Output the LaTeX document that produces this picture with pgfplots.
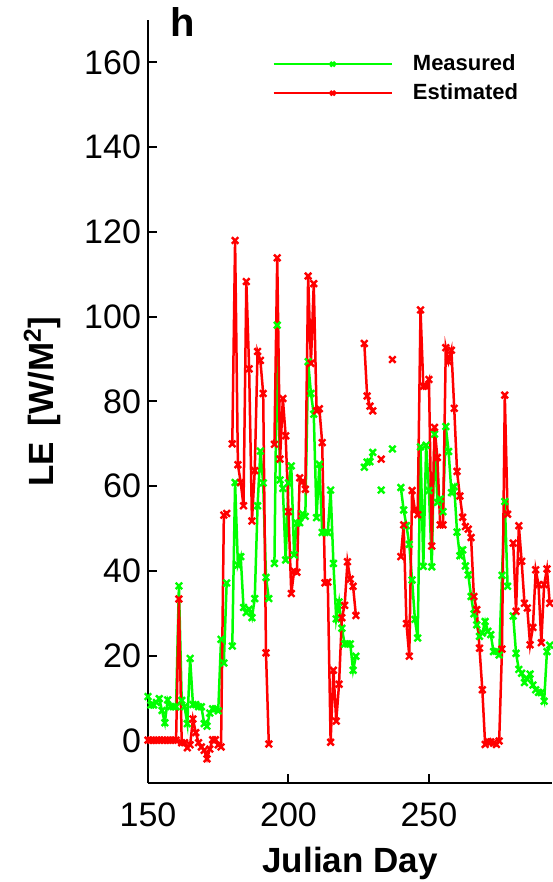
\documentclass[border=0pt]{standalone}
\usepackage{pgfplots}
\pgfplotsset{compat=1.18}
\usepackage{pgfplotstable}
\usepackage{fontspec}
\setmainfont{Liberation Sans}
\definecolor{mgreen}{rgb}{0,1,0}
\definecolor{mred}{rgb}{1,0,0}

\pgfplotstableread{
day val
150 10.4
151 8.4
152 8.4
153 9.0
154 9.9
155 7.1
156 4.2
157 9.6
158 8.0
159 8.0
160 8.0
161 36.5
162 9.5
163 8.0
164 4.0
165 19.4
166 8.5
167 8.5
168 8.0
169 8.0
170 4.0
171 3.4
172 6.5
173 7.5
174 7.5
175 7.0
176 23.9
177 18.3
178 37.2
179 nan
180 22.3
181 60.9
182 41.4
183 43.4
184 31.4
185 30.2
186 31.0
187 29.0
188 33.5
189 55.4
190 68.3
191 60.8
192 38.5
193 33.5
194 nan
195 41.8
196 98.0
197 61.5
198 59.5
199 42.6
200 60.8
201 64.8
202 43.8
203 51.3
204 51.4
205 53.5
206 52.9
207 89.4
208 81.9
209 77.0
210 52.6
211 65.2
212 49.1
213 49.1
214 49.1
215 59.1
216 41.8
217 28.7
218 32.7
219 26.5
220 22.8
221 22.8
222 22.8
223 16.6
224 19.9
225 nan
226 nan
227 64.5
228 65.7
229 65.8
230 68.0
231 nan
232 nan
233 59.1
234 nan
235 nan
236 nan
237 68.8
238 nan
239 nan
240 59.7
241 54.4
242 50.7
243 46.3
244 37.9
245 28.6
246 24.2
247 69.3
248 41.1
249 69.7
250 59.0
251 41.0
252 72.3
253 56.2
254 57.0
255 54.0
256 74.1
257 68.2
258 58.5
259 59.9
260 49.2
261 43.6
262 45.0
263 41.2
264 39.1
265 34.0
266 29.9
267 27.3
268 24.6
269 25.4
270 28.1
271 25.8
272 25.0
273 21.0
274 21.1
275 20.2
276 39.0
277 56.4
278 36.4
279 nan
280 29.4
281 20.6
282 16.8
283 15.9
284 13.7
285 14.5
286 15.7
287 13.1
288 12.0
289 11.4
290 11.3
291 9.3
292 21.0
293 22.5
}\measured

\pgfplotstableread{
day val
150 0.1
151 0.1
152 0.1
153 0.1
154 0.1
155 0.1
156 0.1
157 0.1
158 0.1
159 0.1
160 0.1
161 33.4
162 -0.5
163 -0.5
164 -1.7
165 -1.0
166 5.1
167 1.9
168 -0.5
169 -1.5
170 -2.3
171 -4.3
172 -2.0
173 0.2
174 0.2
175 -1.0
176 -1.5
177 53.2
178 53.6
179 nan
180 70.0
181 118.0
182 65.1
183 60.9
184 55.4
185 108.3
186 87.7
187 51.8
188 63.7
189 91.8
190 89.7
191 81.9
192 20.7
193 -0.8
194 nan
195 69.9
196 113.9
197 66.4
198 80.7
199 71.9
200 54.0
201 34.7
202 40.0
203 39.7
204 62.0
205 61.1
206 59.3
207 109.6
208 89.0
209 107.8
210 77.8
211 78.3
212 70.3
213 37.2
214 37.4
215 -0.4
216 16.6
217 4.6
218 13.3
219 29.0
220 31.9
221 42.2
222 38.1
223 36.4
224 29.5
225 nan
226 nan
227 93.7
228 81.3
229 78.9
230 77.8
231 nan
232 nan
233 66.4
234 nan
235 nan
236 nan
237 89.9
238 nan
239 nan
240 43.4
241 50.9
242 27.6
243 19.9
244 59.0
245 54.4
246 53.3
247 101.6
248 83.6
249 83.6
250 85.2
251 45.9
252 73.9
253 66.8
254 50.9
255 50.9
256 92.7
257 89.4
258 92.1
259 78.4
260 63.5
261 57.7
262 52.7
263 50.5
264 49.9
265 47.9
266 34.0
267 30.9
268 21.8
269 12.0
270 -0.9
271 -0.2
272 -0.3
273 -0.6
274 -0.9
275 -0.1
276 21.6
277 81.5
278 53.4
279 nan
280 46.6
281 30.5
282 50.7
283 42.3
284 32.4
285 31.3
286 22.6
287 26.7
288 40.3
289 36.8
290 23.1
291 36.8
292 40.5
293 32.4
}\estimated

\begin{document}
\begin{tikzpicture}
\useasboundingbox (-74pt,-49.5pt) rectangle (202pt,391.5pt);
\begin{axis}[
  at={(0pt,0pt)}, anchor=south west,
  scale only axis, width=202pt, height=381.5pt,
  xmin=150, xmax=293.8, ymin=-10, ymax=170,
  axis x line*=bottom, axis y line*=left,
  axis line style={line width=1pt, black},
  xtick={150,200,250}, ytick={0,20,...,160},
  tick align=inside, major tick length=4.5pt,
  major tick style={line width=1pt, black},
  /pgf/number format/assume math mode=true,
  tick label style={font=\fontsize{17}{20}\selectfont},
  xticklabel style={yshift=-6.5pt},
  xlabel={Julian Day},
  ylabel={LE\ \,[W/M\textsuperscript{2}]},
  label style={font=\bfseries\fontsize{17.5}{21}\selectfont},
  xlabel style={at={(axis description cs:0.5,-0.106)}, anchor=center},
  ylabel style={at={(axis description cs:-0.262,0.5)}, anchor=center},
  unbounded coords=jump,
  legend style={at={(axis description cs:0.307,0.955)}, anchor=north west,
    draw=none, fill=none, inner sep=0pt, row sep=5pt,
    font=\bfseries\fontsize{11}{13}\selectfont, nodes={inner sep=0pt}},
  legend cell align=left,
  legend image code/.code={\draw[mark repeat=2,mark phase=2,#1,mark size=1.6pt] plot coordinates {(0pt,0pt) (29.5pt,0pt) (59pt,0pt)}; \path (69pt,0pt);},
]
\addplot[mgreen, line width=1.25pt, mark=x, mark size=2.3pt, mark options={line width=1.2pt}] table[x=day,y=val] {\measured};
\addlegendentry{Measured}
\addplot[mred, line width=1.25pt, mark=x, mark size=2.3pt, mark options={line width=1.2pt}] table[x=day,y=val] {\estimated};
\addlegendentry{Estimated}
\end{axis}
\node[anchor=base west, font=\bfseries\fontsize{20}{24}\selectfont] at (7.5pt,373pt) {h};
\end{tikzpicture}
\end{document}
